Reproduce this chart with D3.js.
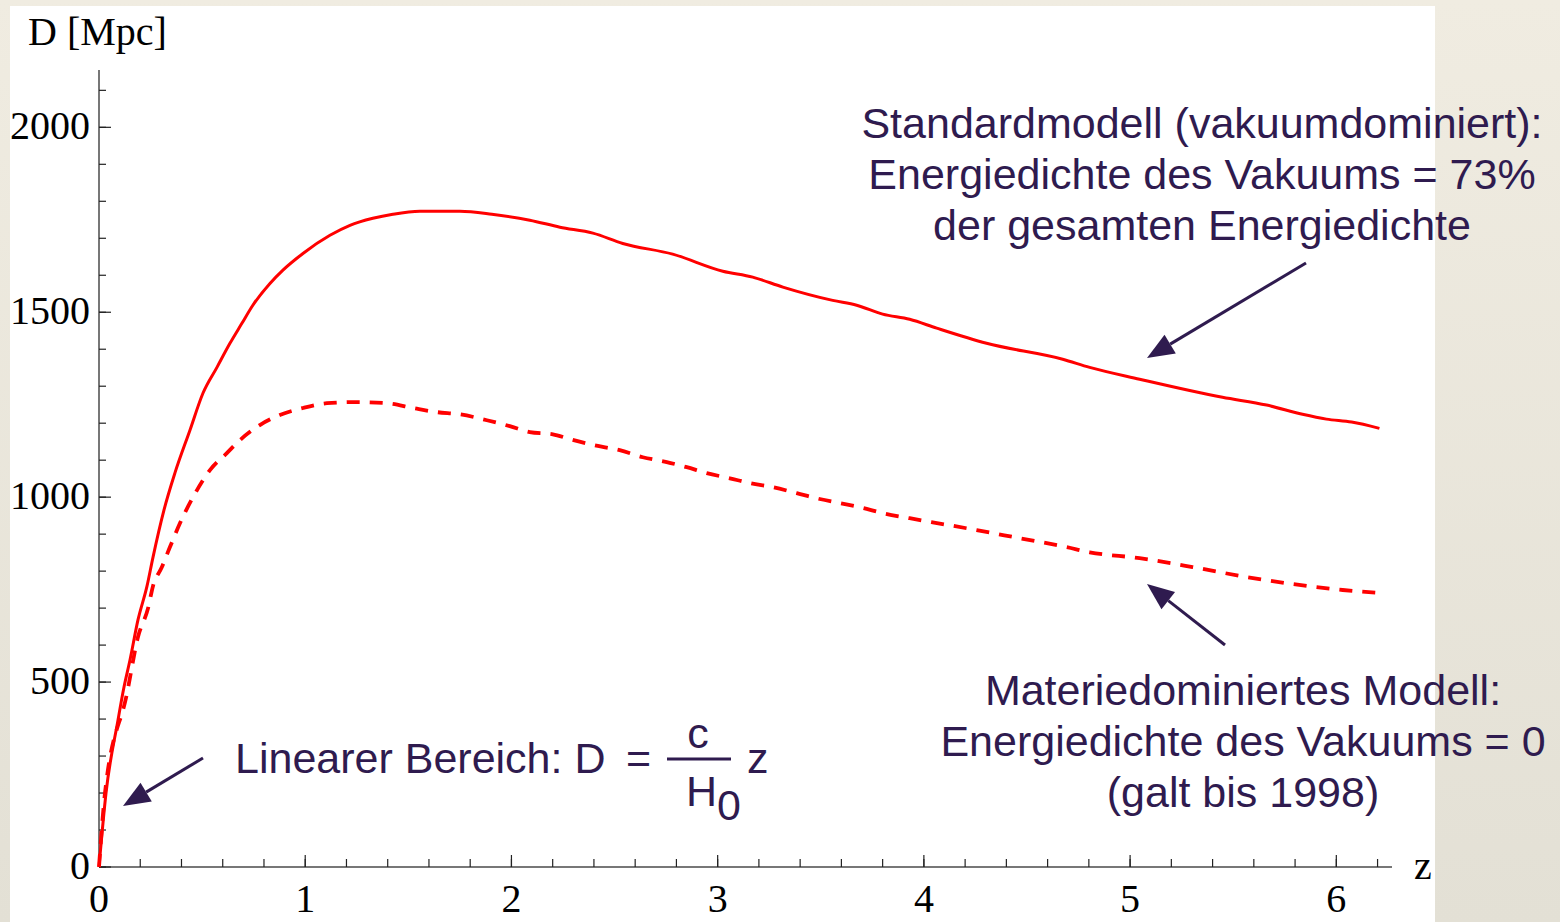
<!DOCTYPE html>
<html>
<head>
<meta charset="utf-8">
<script src="https://cdn.jsdelivr.net/npm/d3@7"></script>
<style>
  html, body { margin: 0; padding: 0; }
  body { width: 1560px; height: 922px; overflow: hidden; }
</style>
</head>
<body>
<script>
// Standardmodell (vakuumdominiert): [z, D in Mpc]
const standardZ = [0, 0.034, 0.092, 0.121, 0.150, 0.189, 0.233, 0.262, 0.315, 0.368, 0.441, 0.504, 0.572,
  0.635, 0.693, 0.746, 0.829, 0.892, 0.989, 1.120, 1.217, 1.328, 1.425, 1.556, 1.750, 1.905, 2.089,
  2.235, 2.395, 2.540, 2.782, 3.025, 3.170, 3.316, 3.558, 3.674, 3.800, 3.931, 4.062, 4.304, 4.673,
  4.804, 5.046, 5.448, 5.662, 5.836, 5.952, 6.074, 6.209];
const standardD = [0, 200, 397, 486, 559, 668, 760, 838, 965, 1065, 1181, 1281, 1351,
  1416, 1470, 1519, 1578, 1614, 1659, 1708, 1735, 1754, 1765, 1773, 1773, 1765, 1749,
  1730, 1714, 1686, 1657, 1611, 1595, 1568, 1532, 1519, 1495, 1481, 1457, 1416, 1373,
  1351, 1319, 1270, 1249, 1224, 1211, 1203, 1186];

// Materiedominiertes Modell
const matterZ = [0, 0.029, 0.136, 0.189, 0.238, 0.262, 0.305, 0.344, 0.393, 0.456, 0.538, 0.620, 0.683,
  0.780, 0.877, 0.989, 1.105, 1.231, 1.396, 1.522, 1.638, 1.750, 1.881, 1.992, 2.089, 2.201, 2.283,
  2.395, 2.525, 2.637, 2.753, 2.850, 2.947, 3.059, 3.156, 3.267, 3.383, 3.495, 3.592, 3.689, 3.800,
  3.931, 4.043, 4.256, 4.464, 4.692, 4.804, 5.046, 5.303, 5.565, 5.788, 6.031, 6.209];
const matterD = [0, 200, 470, 622, 700, 760, 811, 865, 930, 1000, 1073, 1119, 1154,
  1195, 1222, 1241, 1254, 1257, 1254, 1241, 1230, 1224, 1208, 1192, 1176, 1170, 1157,
  1141, 1127, 1108, 1095, 1081, 1065, 1051, 1038, 1027, 1011, 995, 984, 973, 957,
  943, 932, 911, 889, 865, 851, 835, 811, 784, 765, 749, 741];

const xMajorTicks = [0, 1, 2, 3, 4, 5, 6];
const yMajorTicks = [0, 500, 1000, 1500, 2000];

const textColor = "#2f1b4f";
const serif = "'Liberation Serif', 'Times New Roman', serif";
const sans = "'Liberation Sans', Arial, sans-serif";

const svg = d3.select("body").append("svg")
    .attr("width", 1560)
    .attr("height", 922);

const defs = svg.append("defs");
const grad = defs.append("linearGradient").attr("id", "bg")
    .attr("x1", 0).attr("y1", 0).attr("x2", 0).attr("y2", 1);
grad.append("stop").attr("offset", "0%").attr("stop-color", "#f0ece1");
grad.append("stop").attr("offset", "100%").attr("stop-color", "#e3e0d5");

svg.append("rect").attr("width", 1560).attr("height", 922).attr("fill", "url(#bg)");
svg.append("rect").attr("x", 10).attr("y", 6).attr("width", 1425).attr("height", 916).attr("fill", "#fff");

const x = d3.scaleLinear().domain([0, 6.27]).range([99, 1392]);
const y = d3.scaleLinear().domain([0, 2155]).range([867, 70]);

// axes
const gx = svg.append("g").attr("transform", `translate(0,${y(0)})`);
gx.append("line").attr("x1", x(0)).attr("x2", x(6.27)).attr("stroke", "#777").attr("stroke-width", 2);
gx.selectAll("line.minor").data(d3.range(0, 6.27, 0.2))
  .enter().append("line")
    .attr("x1", d => x(d)).attr("x2", d => x(d))
    .attr("y1", 0).attr("y2", -8)
    .attr("stroke", "#222").attr("stroke-width", 1.2);
gx.selectAll("line.major").data(xMajorTicks)
  .enter().append("line")
    .attr("x1", d => x(d)).attr("x2", d => x(d))
    .attr("y1", 0).attr("y2", -12)
    .attr("stroke", "#222").attr("stroke-width", 1.2);
gx.selectAll("text").data(xMajorTicks)
  .enter().append("text")
    .attr("x", d => x(d)).attr("y", 45)
    .attr("text-anchor", "middle")
    .attr("font-family", serif).attr("font-size", 40)
    .text(d => d);

const gy = svg.append("g").attr("transform", `translate(${x(0)},0)`);
gy.append("line").attr("y1", y(0)).attr("y2", y(2155)).attr("stroke", "#777").attr("stroke-width", 2);
gy.selectAll("line.minor").data(d3.range(0, 2155, 100))
  .enter().append("line")
    .attr("y1", d => y(d)).attr("y2", d => y(d))
    .attr("x1", 0).attr("x2", 7)
    .attr("stroke", "#222").attr("stroke-width", 1.2);
gy.selectAll("line.major").data(yMajorTicks)
  .enter().append("line")
    .attr("y1", d => y(d)).attr("y2", d => y(d))
    .attr("x1", 0).attr("x2", 12)
    .attr("stroke", "#222").attr("stroke-width", 1.2);
gy.selectAll("text").data(yMajorTicks)
  .enter().append("text")
    .attr("x", -9).attr("y", d => y(d))
    .attr("dy", "0.3em")
    .attr("text-anchor", "end")
    .attr("font-family", serif).attr("font-size", 40)
    .text(d => d);

svg.append("text").attr("x", 28).attr("y", 45)
    .attr("font-family", serif).attr("font-size", 40)
    .text("D [Mpc]");
svg.append("text").attr("x", 1414).attr("y", 879)
    .attr("font-family", serif).attr("font-size", 40)
    .text("z");

// curves
const line = d3.line().x(d => x(d[0])).y(d => y(d[1])).curve(d3.curveMonotoneX);

svg.append("path")
    .attr("d", line(d3.zip(matterZ, matterD)))
    .attr("fill", "none").attr("stroke", "#ff0000").attr("stroke-width", 3.8)
    .attr("stroke-dasharray", "13,10");
svg.append("path")
    .attr("d", line(d3.zip(standardZ, standardD)))
    .attr("fill", "none").attr("stroke", "#ff0000").attr("stroke-width", 3);

// annotations
function arrow(x1, y1, x2, y2) {
  const a = Math.atan2(y2 - y1, x2 - x1);
  const len = 27, hw = 11;
  const bx = x2 - len * Math.cos(a), by = y2 - len * Math.sin(a);
  svg.append("line").attr("x1", x1).attr("y1", y1).attr("x2", bx).attr("y2", by)
      .attr("stroke", textColor).attr("stroke-width", 3);
  const px = -Math.sin(a) * hw, py = Math.cos(a) * hw;
  svg.append("path")
      .attr("d", `M${x2},${y2}L${bx + px},${by + py}L${bx - px},${by - py}Z`)
      .attr("fill", textColor);
}
arrow(1306, 263, 1147, 358);
arrow(1225, 645, 1147, 584);
arrow(203, 758, 123, 806);

function block(lines, cx, y0, dy) {
  svg.append("g").selectAll("text").data(lines)
    .enter().append("text")
      .attr("x", cx).attr("y", (d, i) => y0 + i * dy)
      .attr("text-anchor", "middle")
      .attr("font-family", sans).attr("font-size", 43)
      .attr("fill", textColor)
      .text(d => d);
}
block(["Standardmodell (vakuumdominiert):", "Energiedichte des Vakuums = 73%", "der gesamten Energiedichte"], 1202, 138, 51);
block(["Materiedominiertes Modell:", "Energiedichte des Vakuums = 0", "(galt bis 1998)"], 1243, 705, 51);

const lin = svg.append("g").attr("font-family", sans).attr("font-size", 43).attr("fill", textColor);
lin.append("text").attr("x", 235).attr("y", 773).text("Linearer Bereich: D");
lin.append("text").attr("x", 626).attr("y", 773).text("=");
lin.append("line").attr("x1", 667).attr("x2", 731).attr("y1", 759).attr("y2", 759)
    .attr("stroke", textColor).attr("stroke-width", 3);
lin.append("text").attr("x", 698).attr("y", 748).attr("text-anchor", "middle").text("c");
lin.append("text").attr("x", 686).attr("y", 806).text("H");
lin.append("text").attr("x", 717).attr("y", 820).text("0");
lin.append("text").attr("x", 747).attr("y", 773).text("z");
</script>
</body>
</html>
